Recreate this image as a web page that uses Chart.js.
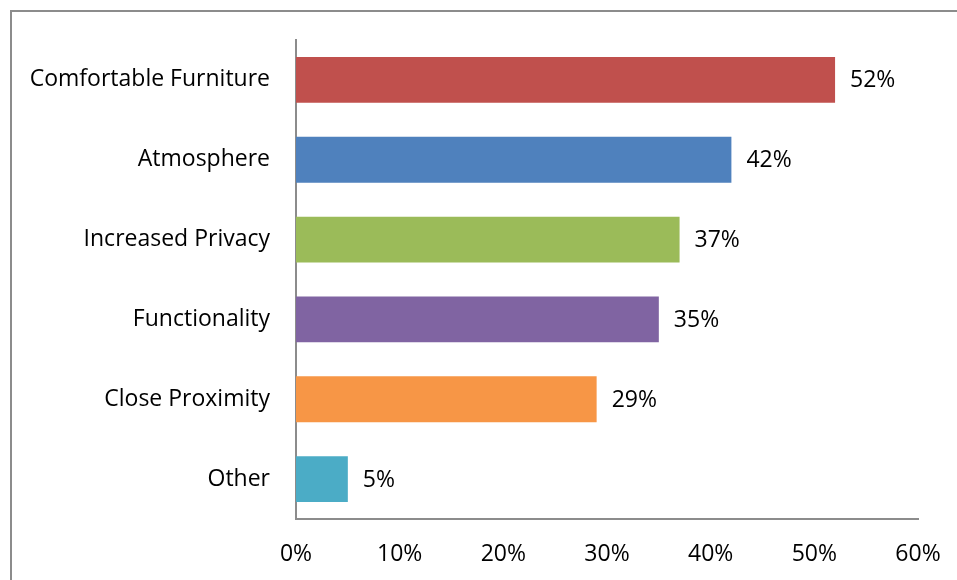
<!DOCTYPE html>
<html>
<head>
<meta charset="utf-8">
<script src="https://cdn.jsdelivr.net/npm/chart.js@4.4.0/dist/chart.umd.min.js"></script>
<style>
  html, body { margin: 0; padding: 0; background: #fff; }
  #wrap { width: 957px; height: 580px; position: relative; }
</style>
</head>
<body>
<div id="wrap"><canvas id="chart" width="957" height="580"></canvas></div>
<script>
const categories = ["Comfortable Furniture", "Atmosphere", "Increased Privacy", "Functionality", "Close Proximity", "Other"];
const shares = [52, 42, 37, 35, 29, 5];
const barColors = ["#C0504D", "#4F81BD", "#9BBB59", "#8064A2", "#F79646", "#4BACC6"];

const FONT = "'Open Sans', 'Liberation Sans', sans-serif";
const FONT_SIZE = 23;

// Outer chart frame
const framePlugin = {
    id: "frame",
    beforeDraw(chart) {
        const ctx = chart.ctx;
        ctx.save();
        ctx.strokeStyle = "#8c8c8c";
        ctx.lineWidth = 2;
        ctx.strokeRect(11, 11, 1000, 1000);
        ctx.restore();
    }
};

// Value labels at bar ends
const valueLabels = {
    id: "valueLabels",
    afterDatasetsDraw(chart) {
        const ctx = chart.ctx;
        const meta = chart.getDatasetMeta(0);
        ctx.save();
        ctx.font = FONT_SIZE + "px " + FONT;
        ctx.fillStyle = "#000";
        ctx.textAlign = "left";
        ctx.textBaseline = "middle";
        meta.data.forEach((bar, i) => {
            ctx.fillText(shares[i] + "%", bar.x + 15, bar.y + 1);
        });
        ctx.restore();
    }
};

new Chart(document.getElementById("chart"), {
    type: "bar",
    data: {
        labels: categories,
        datasets: [{
            data: shares,
            backgroundColor: barColors,
            borderWidth: 0,
            barPercentage: 0.575,
            categoryPercentage: 1
        }]
    },
    options: {
        indexAxis: "y",
        responsive: false,
        animation: false,
        layout: { padding: { top: 40, right: 39, left: 0, bottom: 0 } },
        plugins: {
            legend: { display: false },
            tooltip: { enabled: false }
        },
        scales: {
            x: {
                min: 0,
                max: 60,
                ticks: {
                    stepSize: 10,
                    color: "#000",
                    font: { family: FONT, size: FONT_SIZE },
                    padding: 22,
                    callback: v => v + "%"
                },
                grid: { display: false, drawTicks: false },
                border: { display: true, color: "#8c8c8c", width: 2 },
                afterFit(scale) {
                    scale.height = 61;
                    scale.paddingLeft = 0;
                    scale.paddingRight = 0;
                }
            },
            y: {
                ticks: {
                    color: "#000",
                    font: { family: FONT, size: FONT_SIZE },
                    padding: 26
                },
                grid: { display: false, drawTicks: false },
                border: { display: true, color: "#8c8c8c", width: 2 },
                afterFit(scale) { scale.width = 296; }
            }
        }
    },
    plugins: [framePlugin, valueLabels]
});
</script>
</body>
</html>
